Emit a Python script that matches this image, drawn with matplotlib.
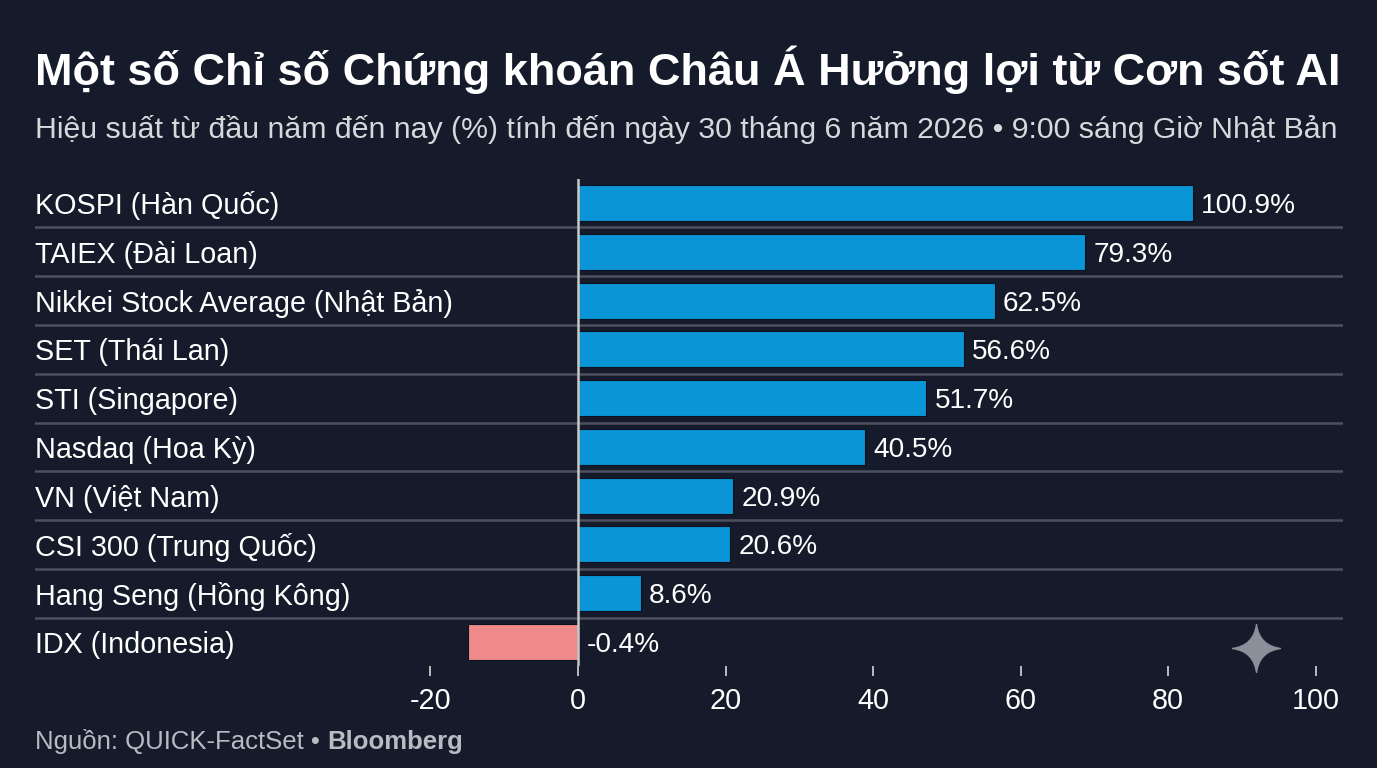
import matplotlib
matplotlib.use("Agg")
import matplotlib.pyplot as plt
from matplotlib.path import Path

plt.rcParams['font.family'] = ['Liberation Sans', 'DejaVu Sans']

## ------------------------------ data -----------------------------------

categories = [
    "KOSPI (Hàn Quốc)",
    "TAIEX (Đài Loan)",
    "Nikkei Stock Average (Nhật Bản)",
    "SET (Thái Lan)",
    "STI (Singapore)",
    "Nasdaq (Hoa Kỳ)",
    "VN (Việt Nam)",
    "CSI 300 (Trung Quốc)",
    "Hang Seng (Hồng Kông)",
    "IDX (Indonesia)",
]
# bar lengths as drawn in the picture (axis units)
bar_lengths = [83.3, 68.7, 56.5, 52.3, 47.2, 38.9, 21.0, 20.6, 8.5, -14.9]
# printed values
pct_labels = ["100.9%", "79.3%", "62.5%", "56.6%", "51.7%",
              "40.5%", "20.9%", "20.6%", "8.6%", "-0.4%"]
xticks = [-20, 0, 20, 40, 60, 80, 100]

title = "Một số Chỉ số Chứng khoán Châu Á Hưởng lợi từ Cơn sốt AI"
subtitle = ("Hiệu suất từ đầu năm đến nay (%) tính đến ngày 30 tháng 6 năm 2026"
            " • 9:00 sáng Giờ Nhật Bản")
source = "Nguồn: QUICK-FactSet • "
brand = "Bloomberg"

## ------------------------------ style -----------------------------------

BG = '#151b2a'
BLUE = '#0a95d6'
PINK = '#f08a8a'
GRID = '#4b515d'
W, H = 1377, 768

fig = plt.figure(figsize=(W / 100, H / 100), dpi=100, facecolor=BG)
ax = fig.add_axes([35 / W, 1 - 666.4 / H, 1308 / W, 487.8 / H])
ax.set_facecolor(BG)

n = len(categories)
ypos = list(range(n))
colors = [BLUE if v >= 0 else PINK for v in bar_lengths]
ax.barh(ypos, bar_lengths, height=0.74, color=colors,
        edgecolor='#0c1220', linewidth=0.8, zorder=3)

ax.set_xlim(-73.6, 103.7)
ax.set_ylim(n - 0.5, -0.5)

# row separators
for i in range(n - 1):
    ax.axhline(i + 0.5, color=GRID, lw=1.8, zorder=1)

# zero line
ax.axvline(0, color='#c8c8c8', lw=1.8, zorder=4)

# category labels + value labels
for i, (cat, v, lab) in enumerate(zip(categories, bar_lengths, pct_labels)):
    ax.text(0.0, i, cat, transform=ax.get_yaxis_transform(), ha='left',
            va='center_baseline', color='white', fontsize=20.7)
    ax.annotate(lab, (max(v, 0), i), xytext=(6, 0), textcoords='offset points',
                ha='left', va='center_baseline', color='white', fontsize=20.2)

ax.set_xticks(xticks)
ax.set_xticklabels([str(t) for t in xticks])
ax.set_yticks([])
ax.tick_params(axis='x', length=7, width=1.3, color='#c8c8c8',
               labelcolor='white', labelsize=20.7, pad=8)
for s in ax.spines.values():
    s.set_visible(False)

# titles
fig.text(35 / W, 1 - 70 / H, title, ha='left', va='center', color='white',
         fontsize=32.5, fontweight='bold')
fig.text(35 / W, 1 - 130 / H, subtitle, ha='left', va='center',
         color='#d6d8dc', fontsize=21.8)
src = fig.text(35 / W, 1 - 742 / H, source, ha='left', va='center',
               color='#b8bbc2', fontsize=18.5)
fig.canvas.draw()
bb = src.get_window_extent()
fig.text(bb.x1 / W, 1 - 742 / H, brand, ha='left', va='center',
         color='#b8bbc2', fontsize=18.5, fontweight='bold')

# sparkle mark
star = Path([(0, 1), (0.12, 0.12), (1, 0), (0.12, -0.12), (0, -1),
             (-0.12, -0.12), (-1, 0), (-0.12, 0.12), (0, 1), (0, 1)],
            [Path.MOVETO, Path.CURVE3, Path.CURVE3, Path.CURVE3, Path.CURVE3,
             Path.CURVE3, Path.CURVE3, Path.CURVE3, Path.CURVE3, Path.CLOSEPOLY])
ax.plot([(1256 - 35) / 1308], [(666.4 - 648) / 487.8], transform=ax.transAxes,
        marker=star, markersize=34.5, color='#8a8f9a', clip_on=False, zorder=5)

fig.savefig('out.png', dpi=100, facecolor=BG)
